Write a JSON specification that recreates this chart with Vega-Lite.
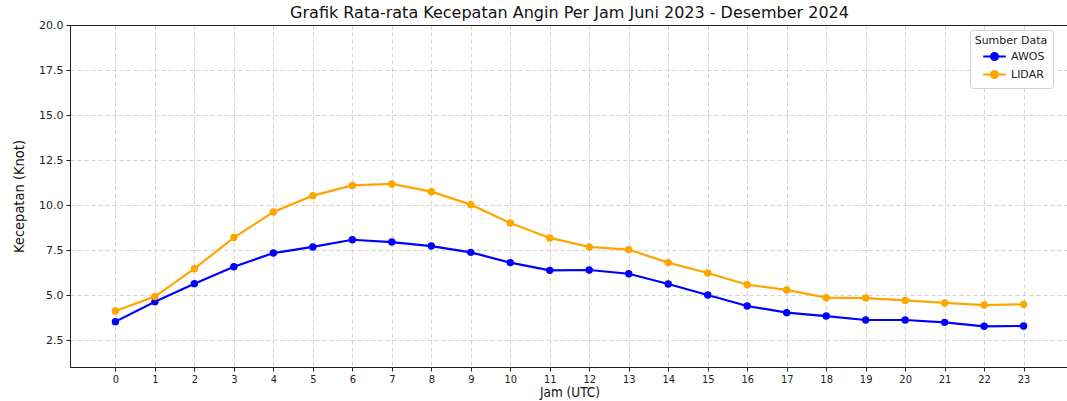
{
  "$schema": "https://vega.github.io/schema/vega-lite/v6.json",
  "autosize": {"type": "none"},
  "padding": {"left": 70, "top": 25, "right": 0, "bottom": 34},
  "width": 999,
  "height": 342,
  "background": "white",
  "config": {
    "font": "DejaVu Sans",
    "view": {"stroke": "#222", "strokeWidth": 1}
  },
  "title": {
    "text": "Grafik Rata-rata Kecepatan Angin Per Jam Juni 2023 - Desember 2024",
    "font": "DejaVu Sans",
    "fontSize": 16,
    "fontWeight": "normal",
    "color": "#111",
    "offset": -2,
    "anchor": "middle"
  },
  "data": {
    "values": [
      {"jam": 0, "sumber": "AWOS", "v": 3.52}, {"jam": 1, "sumber": "AWOS", "v": 4.63},
      {"jam": 2, "sumber": "AWOS", "v": 5.63}, {"jam": 3, "sumber": "AWOS", "v": 6.57},
      {"jam": 4, "sumber": "AWOS", "v": 7.33}, {"jam": 5, "sumber": "AWOS", "v": 7.67},
      {"jam": 6, "sumber": "AWOS", "v": 8.07}, {"jam": 7, "sumber": "AWOS", "v": 7.94},
      {"jam": 8, "sumber": "AWOS", "v": 7.72}, {"jam": 9, "sumber": "AWOS", "v": 7.37},
      {"jam": 10, "sumber": "AWOS", "v": 6.8}, {"jam": 11, "sumber": "AWOS", "v": 6.37},
      {"jam": 12, "sumber": "AWOS", "v": 6.39}, {"jam": 13, "sumber": "AWOS", "v": 6.18},
      {"jam": 14, "sumber": "AWOS", "v": 5.61}, {"jam": 15, "sumber": "AWOS", "v": 5.0},
      {"jam": 16, "sumber": "AWOS", "v": 4.39}, {"jam": 17, "sumber": "AWOS", "v": 4.02},
      {"jam": 18, "sumber": "AWOS", "v": 3.83}, {"jam": 19, "sumber": "AWOS", "v": 3.61},
      {"jam": 20, "sumber": "AWOS", "v": 3.61}, {"jam": 21, "sumber": "AWOS", "v": 3.48},
      {"jam": 22, "sumber": "AWOS", "v": 3.26}, {"jam": 23, "sumber": "AWOS", "v": 3.28},
      {"jam": 0, "sumber": "LIDAR", "v": 4.11}, {"jam": 1, "sumber": "LIDAR", "v": 4.91},
      {"jam": 2, "sumber": "LIDAR", "v": 6.46}, {"jam": 3, "sumber": "LIDAR", "v": 8.19},
      {"jam": 4, "sumber": "LIDAR", "v": 9.61}, {"jam": 5, "sumber": "LIDAR", "v": 10.52},
      {"jam": 6, "sumber": "LIDAR", "v": 11.09}, {"jam": 7, "sumber": "LIDAR", "v": 11.17},
      {"jam": 8, "sumber": "LIDAR", "v": 10.74}, {"jam": 9, "sumber": "LIDAR", "v": 10.02},
      {"jam": 10, "sumber": "LIDAR", "v": 9.0}, {"jam": 11, "sumber": "LIDAR", "v": 8.17},
      {"jam": 12, "sumber": "LIDAR", "v": 7.67}, {"jam": 13, "sumber": "LIDAR", "v": 7.52},
      {"jam": 14, "sumber": "LIDAR", "v": 6.8}, {"jam": 15, "sumber": "LIDAR", "v": 6.22},
      {"jam": 16, "sumber": "LIDAR", "v": 5.57}, {"jam": 17, "sumber": "LIDAR", "v": 5.28},
      {"jam": 18, "sumber": "LIDAR", "v": 4.85}, {"jam": 19, "sumber": "LIDAR", "v": 4.83},
      {"jam": 20, "sumber": "LIDAR", "v": 4.7}, {"jam": 21, "sumber": "LIDAR", "v": 4.56},
      {"jam": 22, "sumber": "LIDAR", "v": 4.44}, {"jam": 23, "sumber": "LIDAR", "v": 4.48}
    ]
  },
  "encoding": {
    "x": {
      "field": "jam", "type": "quantitative",
      "scale": {"domain": [-1.15, 24.15], "nice": false, "zero": false},
      "axis": {
        "title": "Jam (UTC)",
        "values": [0,1,2,3,4,5,6,7,8,9,10,11,12,13,14,15,16,17,18,19,20,21,22,23],
        "format": "d",
        "grid": true, "gridColor": "#c8c8c8", "gridDash": [4, 3], "gridWidth": 0.8,
        "domain": true, "domainColor": "#222",
        "tickColor": "#222", "tickSize": 4,
        "labelFont": "DejaVu Sans Condensed", "labelFontSize": 11, "labelColor": "#222", "labelPadding": 2,
        "titleFont": "DejaVu Sans Condensed", "titleFontSize": 13.5, "titleFontWeight": "normal", "titleColor": "#111", "titlePadding": 1
      }
    },
    "y": {
      "field": "v", "type": "quantitative",
      "scale": {"domain": [1, 20], "nice": false, "zero": false},
      "axis": {
        "title": "Kecepatan (Knot)",
        "values": [2.5, 5, 7.5, 10, 12.5, 15, 17.5, 20],
        "format": ".1f",
        "grid": true,
        "gridColor": {"condition": {"test": "datum.value === 20", "value": "#222"}, "value": "#c8c8c8"},
        "gridDash": {"condition": {"test": "datum.value === 20", "value": []}, "value": [4, 3]},
        "gridWidth": {"condition": {"test": "datum.value === 20", "value": 1}, "value": 0.8},
        "domain": true, "domainColor": "#222",
        "tickColor": "#222", "tickSize": 4,
        "labelFont": "DejaVu Sans", "labelFontSize": 11, "labelColor": "#222", "labelPadding": 3,
        "titleFont": "DejaVu Sans Condensed", "titleFontSize": 14.5, "titleFontWeight": "normal", "titleColor": "#111", "titlePadding": 12
      }
    },
    "color": {
      "field": "sumber", "type": "nominal",
      "scale": {"domain": ["AWOS", "LIDAR"], "range": ["#0000ff", "#ffa500"]},
      "legend": {
        "title": "Sumber Data",
        "orient": "none", "legendX": 900, "legendY": 5,
        "titleFont": "DejaVu Sans", "titleFontSize": 11, "titleFontWeight": "normal", "titleColor": "#222",
        "labelFont": "DejaVu Sans", "labelFontSize": 11, "labelColor": "#222", "labelOffset": 8,
        "symbolType": "M-1.6,0L1.6,0M-0.5,0A0.5,0.5 0 1,0 0.5,0A0.5,0.5 0 1,0 -0.5,0Z",
        "symbolSize": 200, "symbolStrokeWidth": 2, "symbolOffset": 8,
        "strokeColor": "#d0d0d0", "fillColor": "white", "cornerRadius": 3,
        "padding": 5, "rowPadding": 1, "titlePadding": 2, "titleAnchor": "middle"
      }
    }
  },
  "layer": [
    {"mark": {"type": "line", "strokeWidth": 2.2}},
    {"mark": {"type": "point", "filled": true, "size": 55, "opacity": 1}}
  ]
}
